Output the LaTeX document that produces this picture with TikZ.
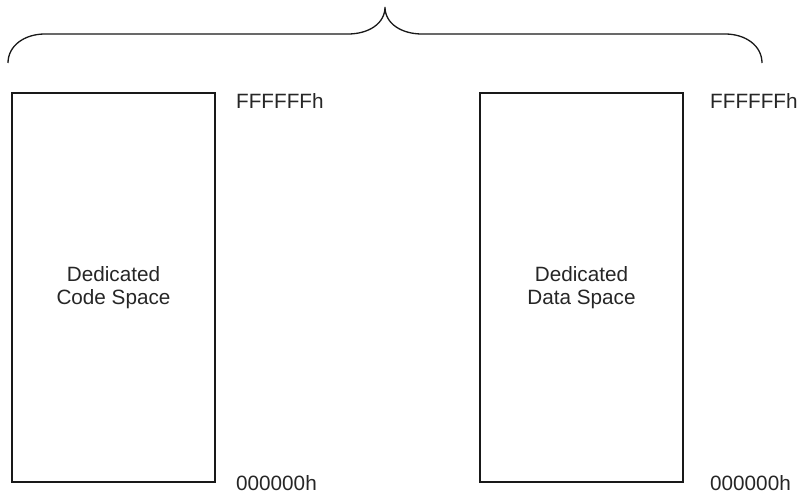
\documentclass[tikz,border=0pt]{standalone}
\usepackage{fontspec}
\setmainfont{Liberation Sans}
\begin{document}
\begin{tikzpicture}[x=1pt,y=-1pt,
  mem/.style={draw=black!90, line width=1.8pt, minimum width=203pt, minimum height=389pt,
    inner sep=0pt, align=center, text=black!85, font=\fontsize{20.7}{23}\selectfont},
  addr/.style={anchor=base west, inner sep=0pt, text=black!85, font=\fontsize{20.7}{24}\selectfont},
  brace/.style={draw=black!90, line width=1.3pt}]
\useasboundingbox (0,0) rectangle (801,495);
\node[mem] (code) at (113.5,287.5) {Dedicated\\Code Space};
\node[mem] (data) at (581.5,287.5) {Dedicated\\Data Space};
\node[addr] (codetop) at (236,109) {FFFFFFh};
\node[addr] (codebot) at (236,490) {000000h};
\node[addr] (datatop) at (710,109) {FFFFFFh};
\node[addr] (databot) at (710,490) {000000h};
\coordinate (bl) at (8,63);
\coordinate (tip) at (385,7);
\coordinate (br) at (762,63);
\draw[brace] (bl) .. controls (8,46) and (24,34) .. (45,34) -- (348,34)
  .. controls (368,34) and (385,24) .. (tip)
  .. controls (385,24) and (402,34) .. (422,34) -- (725,34)
  .. controls (746,34) and (762,46) .. (br);
\end{tikzpicture}
\end{document}
